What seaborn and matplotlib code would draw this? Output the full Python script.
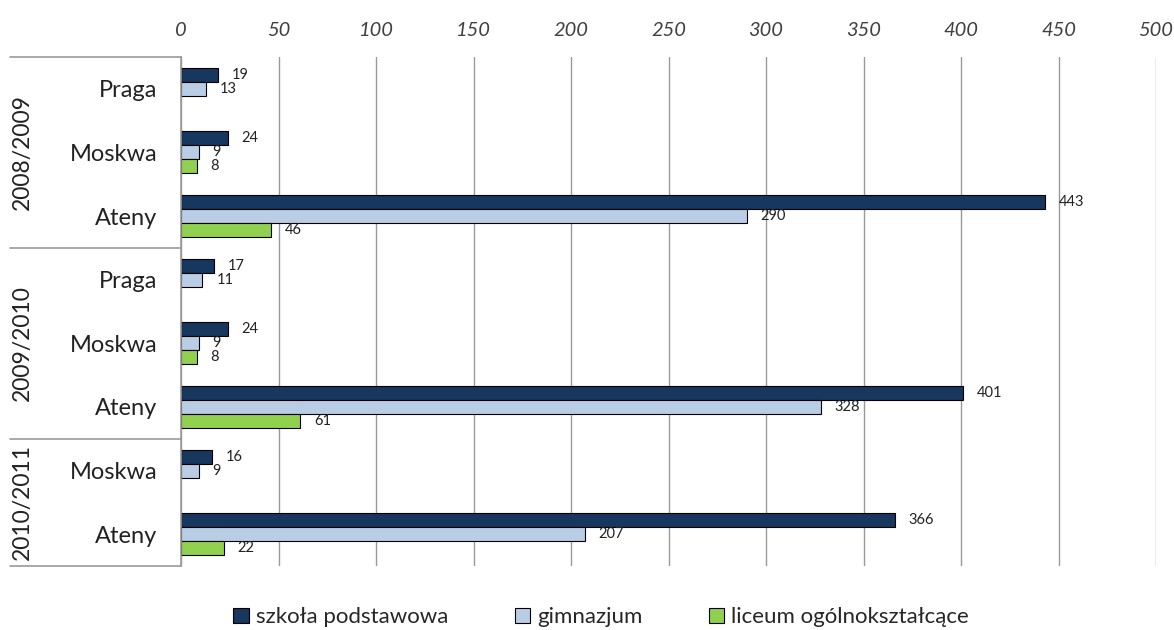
import matplotlib
matplotlib.use('Agg')
import matplotlib.pyplot as plt
import matplotlib.transforms as mtransforms
import seaborn as sns
import pandas as pd

# Dane
lata = ['2008/2009', '2008/2009', '2008/2009', '2009/2010', '2009/2010', '2009/2010', '2010/2011', '2010/2011']
miasta = ['Praga', 'Moskwa', 'Ateny', 'Praga', 'Moskwa', 'Ateny', 'Moskwa', 'Ateny']
szkola_podstawowa = [19, 24, 443, 17, 24, 401, 16, 366]
gimnazjum = [13, 9, 290, 11, 9, 328, 9, 207]
liceum = [None, 8, 46, None, 8, 61, None, 22]
typy = ['szkoła podstawowa', 'gimnazjum', 'liceum ogólnokształcące']
kolory = ['#17375E', '#B9CDE5', '#92D050']

wiersze = [f'{r}|{m}' for r, m in zip(lata, miasta)]
rekordy = []
for w, a, b, c in zip(wiersze, szkola_podstawowa, gimnazjum, liceum):
    for typ, v in zip(typy, [a, b, c]):
        if v is not None:
            rekordy.append({'wiersz': w, 'typ': typ, 'liczba': v})
df = pd.DataFrame(rekordy)

sns.set_style('white')
plt.rcParams['font.family'] = ['Lato', 'DejaVu Sans']

fig = plt.figure(figsize=(11.74, 6.3), dpi=100)
ax = fig.add_axes([181 / 1174, 1 - 566 / 630, 975 / 1174, 509 / 630])

sns.barplot(data=df, y='wiersz', x='liczba', hue='typ', order=wiersze, hue_order=typy,
            palette=kolory, orient='h', width=0.66, edgecolor='black', linewidth=0.8,
            saturation=1, ax=ax)

for cont in ax.containers:
    ax.bar_label(cont, padding=10, fontsize=10.5, color='#222222')

ax.set_xlim(0, 500)
ax.set_xticks(range(0, 501, 50))
ax.xaxis.tick_top()
ax.tick_params(axis='x', length=0, pad=13, labelsize=14.5, labelcolor='#404040')
for t in ax.get_xticklabels():
    t.set_fontstyle('italic')
ax.grid(axis='x', color='#999999', linewidth=1)
ax.set_axisbelow(True)
for s in ['top', 'right', 'bottom']:
    ax.spines[s].set_visible(False)
ax.spines['left'].set_color('#999999')
ax.spines['left'].set_linewidth(1.2)

ax.set_yticks(range(len(miasta)))
ax.set_yticklabels(miasta, fontsize=17, color='#222222')
ax.tick_params(axis='y', length=0, pad=17)
ax.set_xlabel('')
ax.set_ylabel('')
ax.set_ylim(len(miasta) - 0.5, -0.5)

# Tabela kategorii po lewej
trans = mtransforms.blended_transform_factory(fig.transFigure, ax.transData)
x0 = 10 / 1174
x1 = 181 / 1174
for yb in [-0.5, 2.5, 5.5, 7.5]:
    ax.plot([x0, x1], [yb, yb], transform=trans, color='#999999', linewidth=1.2, clip_on=False)
for rok, yc in zip(['2008/2009', '2009/2010', '2010/2011'], [1, 4, 6.5]):
    ax.text(22 / 1174, yc, rok, transform=trans, rotation=90, ha='center', va='center',
            fontsize=16.5, color='#222222')

ax.legend(loc='center', bbox_to_anchor=(0.512, 0.02), bbox_transform=fig.transFigure, ncol=3,
          frameon=False, fontsize=16, handlelength=0.7, handleheight=0.7, handletextpad=0.3,
          columnspacing=3.0)

fig.savefig('out.png', dpi=100)
